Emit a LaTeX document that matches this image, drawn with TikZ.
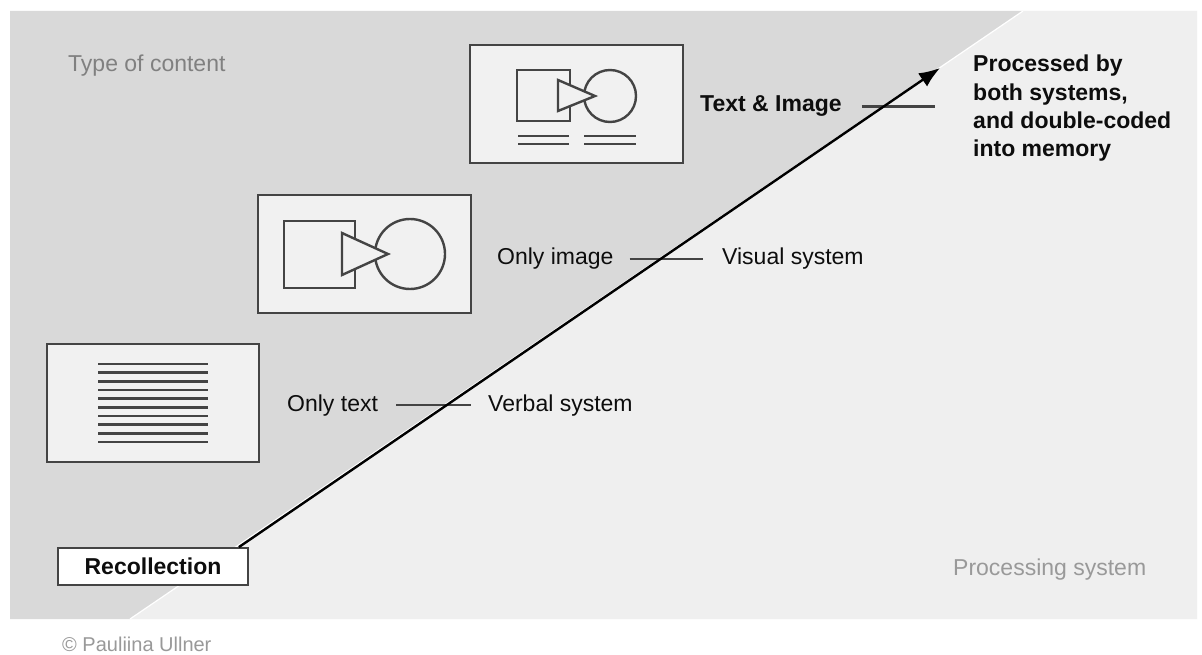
\documentclass[tikz,border=0pt]{standalone}
\usepackage{fontspec}
\setmainfont{Liberation Sans}
\usetikzlibrary{arrows.meta}
\definecolor{bgdark}{HTML}{D9D9D9}
\definecolor{bglight}{HTML}{EFEFEF}
\definecolor{panelfill}{HTML}{F1F1F1}
\definecolor{ink}{HTML}{444444}
\definecolor{lbl}{HTML}{808080}
\definecolor{lbltwo}{HTML}{999999}
\definecolor{txt}{HTML}{0D0D0D}
\tikzset{
  panel/.style={draw=ink, line width=2.6pt, fill=panelfill, inner sep=0pt, minimum width=213pt, minimum height=118pt},
  glyph/.style={draw=ink, line width=2.4pt},
  glyphfill/.style={draw=ink, line width=2.4pt, fill=panelfill, line join=miter},
  lab/.style={font=\fontsize{23}{28.3}\selectfont, inner sep=0pt, text=txt},
  labb/.style={font=\fontsize{23}{28.3}\selectfont\bfseries, inner sep=0pt, text=txt},
  conn/.style={draw=ink, line width=2.4pt},
  recbox/.style={draw=ink, line width=1.8pt, fill=white, minimum width=190pt, minimum height=37pt, inner sep=0pt, font=\fontsize{23}{27.7}\selectfont\bfseries, text=txt},
  arrowline/.style={draw=black, line width=2.4pt, -{Latex[length=21pt,width=16pt]}}
}
\begin{document}
\begin{tikzpicture}[x=1pt,y=-1pt]
\useasboundingbox (0,0) rectangle (1202,655);
\fill[white] (0,0) rectangle (1202,655);
% background halves
\fill[bgdark] (10,11) -- (1023,11) -- (130,619) -- (10,619) -- cycle;
\fill[bglight] (1023,11) -- (1197,11) -- (1197,619) -- (130,619) -- cycle;
\draw[white, line width=1.2pt] (1023,11) -- (130,619);

% panel: text & image
\node[panel] (tipanel) at (576.5,104) {};
\draw[glyph] (610,96) circle (26);
\draw[glyph] (517,70) rectangle (570,121);
\draw[glyphfill] (558,80) -- (595,96) -- (558,111) -- cycle;
\draw[glyph] (518,136) -- (569,136) (518,144) -- (569,144)
             (584,136) -- (636,136) (584,144) -- (636,144);

% panel: only image
\node[panel] (impanel) at (364.5,254) {};
\draw[glyph] (410,254) circle (35);
\draw[glyph] (284,221) rectangle (355,288);
\draw[glyphfill] (342,233) -- (388,254) -- (342,275) -- cycle;

% panel: only text
\node[panel, minimum width=212pt] (txpanel) at (153,403) {};
\foreach \i in {0,...,9} {
  \draw[glyph, line width=2.8pt] (98,364+\i*8.67) -- (208,364+\i*8.67);
}

% labels
\node[lab, anchor=base west, text=lbl] (typeofcontent) at (68,72) {Type of content};
\node[labb, anchor=base west] (textimage) at (700,112) {Text \& Image};
\node[lab, anchor=base west] (onlyimage) at (497,265) {Only image};
\node[lab, anchor=base west] (visual) at (722,265) {Visual system};
\node[lab, anchor=base west] (onlytext) at (287,411) {Only text};
\node[lab, anchor=base west] (verbal) at (488,411) {Verbal system};
\node[labb, anchor=north west, align=left] (processed) at (973,55) {Processed by\\both systems,\\and double-coded\\into memory};
\node[lab, anchor=base west, text=lbltwo] (procsys) at (953,575) {Processing system};
\node[recbox] (recollection) at (153,566.5) {Recollection};
\node[lab, anchor=base west, text=lbltwo, font=\fontsize{20}{24}\selectfont] (copyright) at (62,651) {© Pauliina Ullner};

% connectors
\coordinate (tiend) at (935,104);
\coordinate (arrowtip) at (940,68);
\draw[conn, shorten <=20pt] (textimage.east) -- (textimage.east -| tiend);
\draw[conn, shorten <=16pt, shorten >=19pt] (onlyimage.east) -- (onlyimage.east -| visual.west);
\draw[conn, shorten <=18pt, shorten >=17pt] (onlytext.east) -- (onlytext.east -| verbal.west);
\draw[arrowline] ([xshift=-10pt]recollection.north east) -- (arrowtip);
\end{tikzpicture}
\end{document}
